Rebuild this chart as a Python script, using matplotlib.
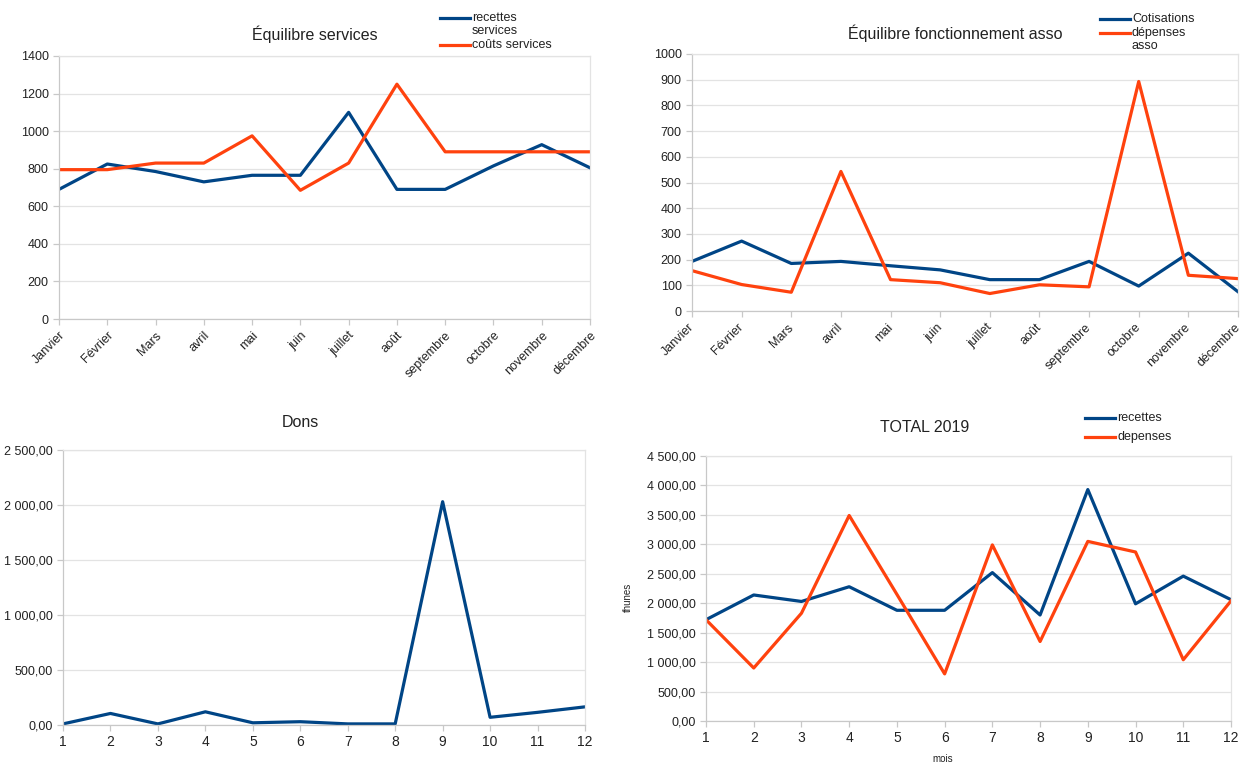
import numpy as np
import matplotlib
matplotlib.use("Agg")
import matplotlib.pyplot as plt
import matplotlib.transforms as mtransforms
from matplotlib.ticker import FuncFormatter, MultipleLocator
from matplotlib.lines import Line2D

plt.rcParams['font.family'] = ['Liberation Sans', 'DejaVu Sans']

# ---------------- data ----------------
mois_noms = ["Janvier", "Février", "Mars", "avril", "mai", "juin", "juillet",
             "août", "septembre", "octobre", "novembre", "décembre"]
mois_num = list(range(1, 13))

recettes_services = [690, 825, 785, 730, 765, 765, 1100, 690, 690, 815, 928, 805]
couts_services = [795, 795, 830, 830, 975, 685, 830, 1250, 890, 890, 890, 890]

cotisations = [193, 272, 185, 193, 176, 160, 122, 122, 193, 97, 225, 75]
depenses_asso = [157, 103, 73, 543, 122, 110, 68, 102, 94, 893, 139, 126]

dons = [10, 105, 10, 120, 20, 30, 10, 10, 2030, 70, 115, 165]

total_recettes = [1720, 2140, 2030, 2280, 1880, 1880, 2520, 1800, 3930, 1990, 2460, 2060]
total_depenses = [1720, 900, 1830, 3490, 2150, 800, 2990, 1350, 3050, 2870, 1040, 2040]

BLUE = "#004586"
ORANGE = "#ff420e"
GRID = "#e3e3e3"
AXC = "#c8c8c8"
TXT = "#222222"
LW = 2.3

fig = plt.figure(figsize=(12.42, 7.65), dpi=100)
W, H = 1242, 765


def ax_at(l, t, r, b):
    return fig.add_axes([l / W, 1 - b / H, (r - l) / W, (b - t) / H])


def fr_fmt(v, pos=None):
    s = f"{v:,.2f}"
    s = s.replace(",", " ").replace(".", ",")
    return s


def style(ax):
    ax.grid(axis='y', color=GRID, lw=0.9)
    ax.set_axisbelow(True)
    for s in ["top", "right"]:
        ax.spines[s].set_color(GRID)
        ax.spines[s].set_linewidth(0.9)
    for s in ["left", "bottom"]:
        ax.spines[s].set_color(AXC)
        ax.spines[s].set_linewidth(0.9)
    ax.tick_params(axis='both', colors=AXC, labelcolor=TXT, labelsize=9,
                   length=4, width=0.9, direction='out')


def legend(x0, ys, colors, labels):
    for y, c, lab in zip(ys, colors, labels):
        fig.add_artist(Line2D([x0 / W, (x0 + 30) / W], [1 - y / H, 1 - y / H],
                              color=c, lw=LW, transform=fig.transFigure))
        fig.text((x0 + 32) / W, 1 - (y - 6) / H, lab, fontsize=9, color=TXT,
                 ha='left', va='top', linespacing=1.15)


def shift_labels(ax, dx_px):
    off = mtransforms.ScaledTranslation(dx_px / 100.0, 0, fig.dpi_scale_trans)
    for lab in ax.get_xticklabels():
        lab.set_transform(lab.get_transform() + off)


# --------- chart 1: Équilibre services ---------
x = np.arange(12)
ax1 = ax_at(59, 56, 590, 319)
ax1.plot(x, recettes_services, color=BLUE, lw=LW)
ax1.plot(x, couts_services, color=ORANGE, lw=LW)
ax1.set_xlim(0, 11)
ax1.set_ylim(0, 1400)
ax1.yaxis.set_major_locator(MultipleLocator(200))
ax1.set_xticks(x)
ax1.set_xticklabels(mois_noms, rotation=45, ha='right', rotation_mode='anchor',
                    fontsize=8.5)
style(ax1)
fig.text(315 / W, 1 - 34 / H, "Équilibre services", fontsize=11.5, color=TXT,
         ha='center', va='center')
legend(440, [18, 45], [BLUE, ORANGE], ["recettes\nservices", "coûts services"])

# --------- chart 2: Équilibre fonctionnement asso ---------
ax2 = ax_at(692, 54, 1238, 311)
ax2.plot(x, cotisations, color=BLUE, lw=LW)
ax2.plot(x, depenses_asso, color=ORANGE, lw=LW)
ax2.set_xlim(0, 11)
ax2.set_ylim(0, 1000)
ax2.yaxis.set_major_locator(MultipleLocator(100))
ax2.set_xticks(x)
ax2.set_xticklabels(mois_noms, rotation=45, ha='right', rotation_mode='anchor',
                    fontsize=8.5)
style(ax2)
shift_labels(ax2, -4)
fig.text(955 / W, 1 - 33 / H, "Équilibre fonctionnement asso", fontsize=11.5,
         color=TXT, ha='center', va='center')
legend(1100, [19, 33], [BLUE, ORANGE], ["Cotisations", "dépenses\nasso"])

# --------- chart 3: Dons ---------
ax3 = ax_at(63, 450, 585, 725)
ax3.plot(mois_num, dons, color=BLUE, lw=LW)
ax3.set_xlim(1, 12)
ax3.set_ylim(0, 2500)
ax3.yaxis.set_major_locator(MultipleLocator(500))
ax3.yaxis.set_major_formatter(FuncFormatter(fr_fmt))
ax3.set_xticks(mois_num)
style(ax3)
ax3.tick_params(axis='x', labelsize=10)
fig.text(300 / W, 1 - 422 / H, "Dons", fontsize=11.5, color=TXT,
         ha='center', va='center')

# --------- chart 4: TOTAL 2019 ---------
ax4 = ax_at(706, 456, 1231, 721)
ax4.plot(mois_num, total_recettes, color=BLUE, lw=LW)
ax4.plot(mois_num, total_depenses, color=ORANGE, lw=LW)
ax4.set_xlim(1, 12)
ax4.set_ylim(0, 4500)
ax4.yaxis.set_major_locator(MultipleLocator(500))
ax4.yaxis.set_major_formatter(FuncFormatter(fr_fmt))
ax4.set_xticks(mois_num)
style(ax4)
ax4.tick_params(axis='x', labelsize=10)
fig.text(925 / W, 1 - 427 / H, "TOTAL 2019", fontsize=11.5, color=TXT,
         ha='center', va='center')
fig.text(628 / W, 1 - 597 / H, "thunes", fontsize=7, color=TXT,
         ha='center', va='center', rotation=90)
fig.text(943 / W, 1 - 759 / H, "mois", fontsize=7, color=TXT,
         ha='center', va='center')
legend(1085, [418, 437], [BLUE, ORANGE], ["recettes", "depenses"])

fig.savefig("out.png", dpi=100, facecolor="white")
